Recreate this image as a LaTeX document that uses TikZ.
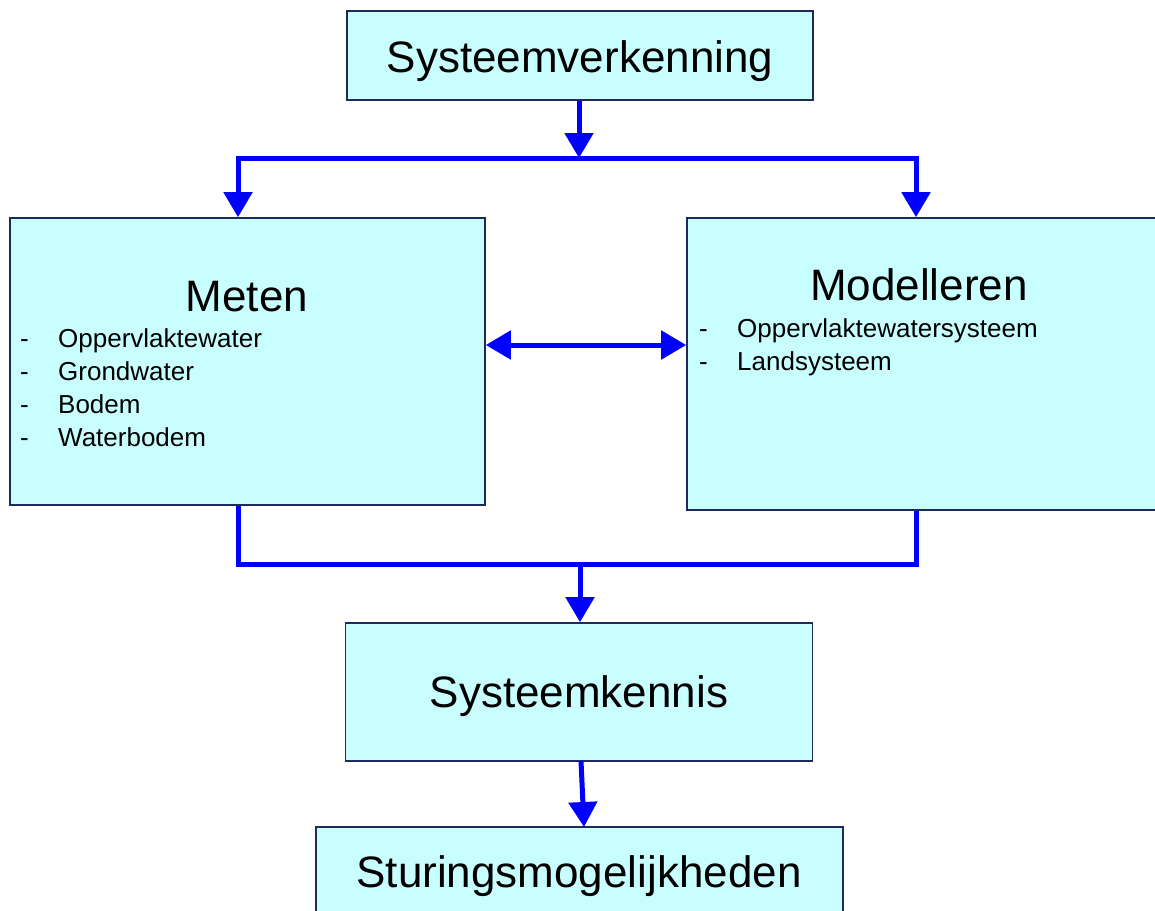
\documentclass[tikz,border=0pt]{standalone}
\usepackage{fontspec}
\setmainfont{Liberation Sans}
\usetikzlibrary{arrows.meta}
\definecolor{boxfill}{HTML}{C8FEFE}
\definecolor{boxline}{HTML}{1F2A5A}
\definecolor{flow}{HTML}{0000FF}
\tikzset{
  box/.style={draw=boxline, line width=1.6pt, fill=boxfill, rectangle, inner sep=0pt},
  title/.style={font=\fontsize{44}{50}\selectfont, inner sep=0pt, anchor=base},
  item/.style={font=\fontsize{26}{30}\selectfont, inner sep=0pt, anchor=base west},
  flowline/.style={draw=flow, line width=5pt},
  flowarrow/.style={flowline, -{Triangle[width=28pt,length=25pt]}},
  twoway/.style={flowline, {Triangle[width=28pt,length=25pt]}-{Triangle[width=28pt,length=25pt]}},
}
\begin{document}
\begin{tikzpicture}[x=1pt,y=-1pt]
\useasboundingbox (0,0) rectangle (1155,910);
\clip (0,0) rectangle (1155,910);
\fill[white] (0,0) rectangle (1155,910);

% boxes
\node[box, minimum width=466pt, minimum height=89pt] (sv) at (580,55.5) {};
\node[box, minimum width=475pt, minimum height=287pt] (me) at (247.5,361.5) {};
\node[box, minimum width=480pt, minimum height=292pt] (mo) at (927,364) {};
\node[box, minimum width=467pt, minimum height=138pt] (sk) at (579,692) {};
\node[box, minimum width=527pt, minimum height=110pt] (st) at (579.5,882) {};

% titles
\node[title] (svt) at (580,72) {Systeemverkenning};
\node[title] (met) at (247,311) {Meten};
\node[title] (mot) at (919,300) {Modelleren};
\node[title] (skt) at (579,707) {Systeemkennis};
\node[title] (stt) at (579,887) {Sturingsmogelijkheden};

% lists
\foreach \y/\t [count=\i] in {347/Oppervlaktewater,380/Grondwater,413/Bodem,446/Waterbodem}{
  \node[item] (mda\i) at (20,\y) {-};
  \node[item] (mli\i) at (58,\y) {\t};
}
\foreach \y/\t [count=\i] in {337/Oppervlaktewatersysteem,370/Landsysteem}{
  \node[item] (oda\i) at (699,\y) {-};
  \node[item] (oli\i) at (737,\y) {\t};
}

% connector coordinates
\coordinate (top) at (579,158);
\coordinate (topL) at (238,158);
\coordinate (topR) at (916,158);
\coordinate (bot) at (580,564);
\coordinate (botL) at (238,564);
\coordinate (botR) at (916,564);
\coordinate (skout) at (581,761);
\coordinate (stin) at (584,827);

% connectors
\draw[flowarrow] (top |- sv.south) -- (top);
\draw[flowline, line cap=rect] (topL) -- (topR);
\draw[flowarrow] (topL) -- (topL |- me.north);
\draw[flowarrow] (topR) -- (topR |- mo.north);
\draw[twoway] (me.east |- 0,345) -- (mo.west |- 0,345);
\draw[flowline, line join=miter] (botL |- me.south) -- (botL) -- (botR) -- (botR |- mo.south);
\draw[flowarrow] (bot) -- (sk.north -| bot);
\draw[flowarrow] (skout) -- (stin);
\end{tikzpicture}
\end{document}
